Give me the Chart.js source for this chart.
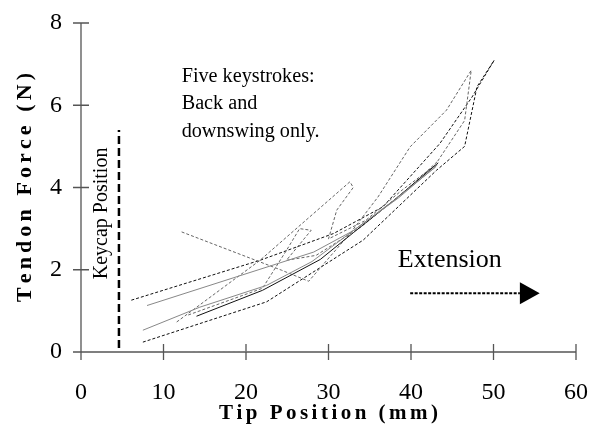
<!DOCTYPE html>
<html lang="en">
<head>
<meta charset="UTF-8">
<title>Tendon Force vs Tip Position</title>
<script src="https://cdn.jsdelivr.net/npm/chart.js"></script>
<style>
  body { margin: 0; background: #fff; }
  #wrap { width: 603px; height: 428px; }
</style>
</head>
<body>
<div id="wrap"><canvas id="forceChart" width="603" height="428"></canvas></div>
<script>
// axis ticks
const xTicks = [0, 10, 20, 30, 40, 50, 60];
const yTicks = [0, 2, 4, 6, 8];

// keystroke paths: tip position (mm) and tendon force (N)
const k1X = [7.5, 22.5, 34.2, 43.1, 46.5, 48.0, 50.1];
const k1Y = [0.24, 1.22, 2.72, 4.42, 5.00, 6.45, 7.10];
const k2X = [6.1, 21.7, 30.6, 36.6, 43.5, 47.4, 50.1];
const k2Y = [1.26, 2.23, 2.88, 3.53, 5.07, 6.20, 7.10];
const k3X = [12.2, 24.3, 27.6, 32.6, 36.0, 39.9, 44.3, 47.3, 46.5, 43.1];
const k3Y = [2.92, 1.99, 1.72, 2.88, 3.77, 4.99, 5.88, 6.85, 5.63, 4.60];
const k4X = [11.6, 21.7, 32.6, 33.0, 31.0, 30.0, 34.5, 39.0, 43.0];
const k4Y = [0.73, 2.23, 4.14, 4.00, 3.45, 2.75, 3.20, 3.95, 4.55];
const k5X = [13.0, 22.0, 24.9, 26.5, 27.9, 24.9, 28.5, 34.0, 39.5, 43.3];
const k5Y = [0.90, 1.55, 2.47, 3.00, 2.96, 2.23, 2.35, 3.05, 3.95, 4.65];
const s1X = [8.0, 28.2, 33.0, 38.5, 43.2];
const s1Y = [1.13, 2.43, 2.95, 3.75, 4.55];
const s2X = [7.5, 14.4, 22.5, 28.0, 33.0, 38.0, 43.0];
const s2Y = [0.53, 1.09, 1.62, 2.20, 2.95, 3.70, 4.50];
const s3X = [14.0, 22.0, 29.0, 33.0, 38.0, 43.3];
const s3Y = [0.87, 1.50, 2.25, 2.90, 3.70, 4.60];
const zeroX = [13.2, 22.9];
const zeroY = [0, 0];

// keycap position marker
const keycapX = [4.6, 4.6];
const keycapY = [0.1, 5.4];

function pts(xs, ys) {
    return xs.map((x, i) => ({ x: x, y: ys[i] }));
}

function path(xs, ys, color, dash, width) {
    return {
        data: pts(xs, ys),
        borderColor: color,
        borderDash: dash,
        borderWidth: width || 1,
        pointRadius: 0,
        fill: false,
        tension: 0
    };
}

const BLACK = '#111';
const GREY = '#666';
const DASH = [3, 2];

// spread the letters of a string out to a given width
function spacedText(ctx, text, cx, cy, width) {
    const chars = text.split('');
    const widths = chars.map(c => ctx.measureText(c).width);
    const natural = widths.reduce((a, b) => a + b, 0);
    const gap = (width - natural) / (chars.length - 1);
    let px = cx - width / 2;
    ctx.textAlign = 'left';
    chars.forEach((c, i) => {
        ctx.fillText(c, px, cy);
        px += widths[i] + gap;
    });
}

const paperPlugin = {
    id: 'paper',
    beforeDraw(chart) {
        const ctx = chart.ctx;
        ctx.save();
        ctx.fillStyle = '#fff';
        ctx.fillRect(0, 0, chart.width, chart.height);
        ctx.restore();
    },
    beforeDatasetsDraw(chart) {
        const { ctx, scales: { x, y } } = chart;
        const x0 = x.getPixelForValue(0), y0 = y.getPixelForValue(0);
        const tl = 8;
        ctx.save();
        ctx.strokeStyle = '#555';
        ctx.lineWidth = 1.3;
        ctx.beginPath();
        // axis lines
        ctx.moveTo(x0, y.getPixelForValue(8));
        ctx.lineTo(x0, y0 + tl);
        ctx.moveTo(x0 - tl, y0);
        ctx.lineTo(x.getPixelForValue(60), y0);
        // crossing tick marks
        xTicks.forEach(v => {
            const px = x.getPixelForValue(v);
            ctx.moveTo(px, y0 - tl);
            ctx.lineTo(px, y0 + tl);
        });
        yTicks.forEach(v => {
            const py = y.getPixelForValue(v);
            ctx.moveTo(x0 - tl, py);
            ctx.lineTo(x0 + tl, py);
        });
        ctx.stroke();
        ctx.restore();
    },
    afterDraw(chart) {
        const { ctx, scales: { x, y }, chartArea } = chart;
        ctx.save();
        ctx.fillStyle = '#000';
        ctx.textBaseline = 'alphabetic';

        // axis titles
        ctx.font = 'bold 21px "Liberation Serif"';
        spacedText(ctx, 'Tip Position (mm)', (chartArea.left + chartArea.right) / 2, 419, 219);
        ctx.save();
        ctx.translate(31, (chartArea.top + chartArea.bottom) / 2);
        ctx.rotate(-Math.PI / 2);
        ctx.font = 'bold 22px "Liberation Serif"';
        spacedText(ctx, 'Tendon Force (N)', 0, 0, 229);
        ctx.restore();

        // keycap label
        ctx.save();
        ctx.translate(x.getPixelForValue(2.55) + 5, y.getPixelForValue(3.37));
        ctx.rotate(-Math.PI / 2);
        ctx.font = '20px "Liberation Serif"';
        ctx.textAlign = 'center';
        ctx.fillText('Keycap Position', 0, 0);
        ctx.restore();

        // note
        const noteLines = ['Five keystrokes:', 'Back and', 'downswing only.'];
        ctx.font = '20px "Liberation Serif"';
        ctx.textAlign = 'left';
        const sx = 133 / ctx.measureText(noteLines[0]).width;
        const nx = x.getPixelForValue(12.2), ny = y.getPixelForValue(6.57);
        noteLines.forEach((line, i) => {
            ctx.save();
            ctx.translate(nx, ny + i * 27.6);
            ctx.scale(sx, 1);
            ctx.fillText(line, 0, 0);
            ctx.restore();
        });

        // extension arrow
        ctx.font = '26px "Liberation Serif"';
        ctx.fillText('Extension', x.getPixelForValue(38.4), y.getPixelForValue(2.06));
        const ay = y.getPixelForValue(1.43);
        const a0 = x.getPixelForValue(39.9), a1 = x.getPixelForValue(53.2), a2 = x.getPixelForValue(55.6);
        ctx.strokeStyle = '#000';
        ctx.lineWidth = 2;
        ctx.setLineDash([3, 1.5]);
        ctx.beginPath();
        ctx.moveTo(a0, ay);
        ctx.lineTo(a1, ay);
        ctx.stroke();
        ctx.setLineDash([]);
        ctx.beginPath();
        ctx.moveTo(a1, ay - 11);
        ctx.lineTo(a2, ay);
        ctx.lineTo(a1, ay + 11);
        ctx.closePath();
        ctx.fill();
        ctx.restore();
    }
};

new Chart(document.getElementById('forceChart'), {
    type: 'line',
    data: {
        datasets: [
            path(zeroX, zeroY, '#888', DASH),
            path(s2X, s2Y, '#888', []),
            path(s1X, s1Y, '#888', []),
            path(s3X, s3Y, BLACK, []),
            path(k5X, k5Y, GREY, DASH),
            path(k4X, k4Y, GREY, DASH),
            path(k3X, k3Y, GREY, DASH),
            path(k2X, k2Y, BLACK, DASH),
            path(k1X, k1Y, BLACK, DASH),
            path(keycapX, keycapY, '#000', [8, 4], 2.5)
        ]
    },
    options: {
        responsive: false,
        devicePixelRatio: 1,
        animation: false,
        layout: { padding: { top: 23, right: 27, bottom: 0, left: 0 } },
        plugins: {
            legend: { display: false },
            tooltip: { enabled: false }
        },
        scales: {
            x: {
                type: 'linear',
                min: 0,
                max: 60,
                afterFit: s => {
                    s.height = 76;
                    s.paddingLeft = 0;
                    s.paddingRight = 0;
                },
                grid: { display: false, drawTicks: false },
                border: { display: false },
                ticks: {
                    stepSize: 10,
                    maxRotation: 0,
                    padding: 26,
                    color: '#000',
                    font: { family: 'Liberation Serif', size: 24 }
                }
            },
            y: {
                min: 0,
                max: 8,
                afterFit: s => {
                    s.width = 81;
                    s.paddingTop = 0;
                    s.paddingBottom = 0;
                },
                grid: { display: false, drawTicks: false },
                border: { display: false },
                ticks: {
                    stepSize: 2,
                    padding: 19,
                    color: '#000',
                    font: { family: 'Liberation Serif', size: 24 }
                }
            }
        }
    },
    plugins: [paperPlugin]
});
</script>
</body>
</html>
